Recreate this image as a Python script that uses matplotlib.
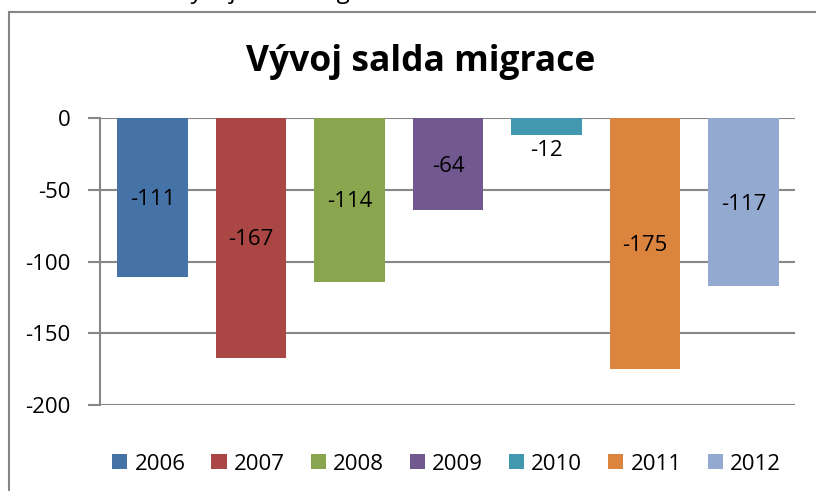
import matplotlib
matplotlib.use('Agg')
import matplotlib.pyplot as plt
from matplotlib.lines import Line2D
from matplotlib.patches import Patch

years = ['2006', '2007', '2008', '2009', '2010', '2011', '2012']
saldo = [-111, -167, -114, -64, -12, -175, -117]
colors = ['#4572A7', '#AA4643', '#89A54E', '#71588F', '#4198AF', '#DB843D', '#93A9CF']
yticks = [0, -50, -100, -150, -200]

plt.rcParams['font.family'] = ['Open Sans', 'DejaVu Sans']
W, H = 816, 491
fig = plt.figure(figsize=(W / 100, H / 100), dpi=100)
grid_c = '#868686'

# chart frame (runs past the right and bottom edge of the picture)
fig.add_artist(Line2D([9 / W, 9 / W], [0, 1 - 12 / H], color=grid_c, lw=1.5))
fig.add_artist(Line2D([9 / W, 1], [1 - 12 / H, 1 - 12 / H], color=grid_c, lw=1.5))

# caption above the frame, mostly cut off by the top edge
fig.text(176 / W, 1 + 1.5 / H, 'Vývoj salda migrace', fontsize=17.5, va='baseline', ha='left')

ax = fig.add_axes([100 / W, 1 - 405 / H, 695 / W, (405 - 118) / H])
x = list(range(len(years)))
ax.bar(x, saldo, width=0.72, color=colors, zorder=3)
ax.set_xlim(-0.533, 6.523)
ax.set_ylim(-200, 0)
ax.set_yticks(yticks)
ax.set_yticklabels([str(t) for t in yticks], fontsize=16)
ax.set_xticks([])
ax.grid(axis='y', color=grid_c, lw=1.5, zorder=0)
for s in ['top', 'right', 'bottom']:
    ax.spines[s].set_visible(False)
ax.spines['left'].set_color(grid_c)
ax.spines['left'].set_linewidth(1.5)
ax.tick_params(axis='y', length=9, width=1.5, color=grid_c, pad=12)

for xi, v in zip(x, saldo):
    if v > -30:
        # too short for the label: put it just under the bar
        ax.annotate(str(v), (xi, v), xytext=(0, -11), textcoords='offset points',
                    ha='center', va='center', fontsize=16, zorder=4)
    else:
        ax.annotate(str(v), (xi, v / 2), xytext=(0, -1.5), textcoords='offset points',
                    ha='center', va='center', fontsize=16, zorder=4)

fig.text(421 / W, 1 - 62 / H, 'Vývoj salda migrace', fontsize=25.5, fontweight='bold',
         ha='center', va='center')

handles = [Patch(facecolor=c, edgecolor='none') for c in colors]
fig.legend(handles, years, loc='center', bbox_to_anchor=(446.5 / W, 1 - 464 / H), ncol=7,
           frameon=False, fontsize=16, handlelength=0.68, handleheight=0.68,
           handletextpad=0.32, columnspacing=1.17, borderpad=0, borderaxespad=0)

fig.savefig('out.png', dpi=100)
